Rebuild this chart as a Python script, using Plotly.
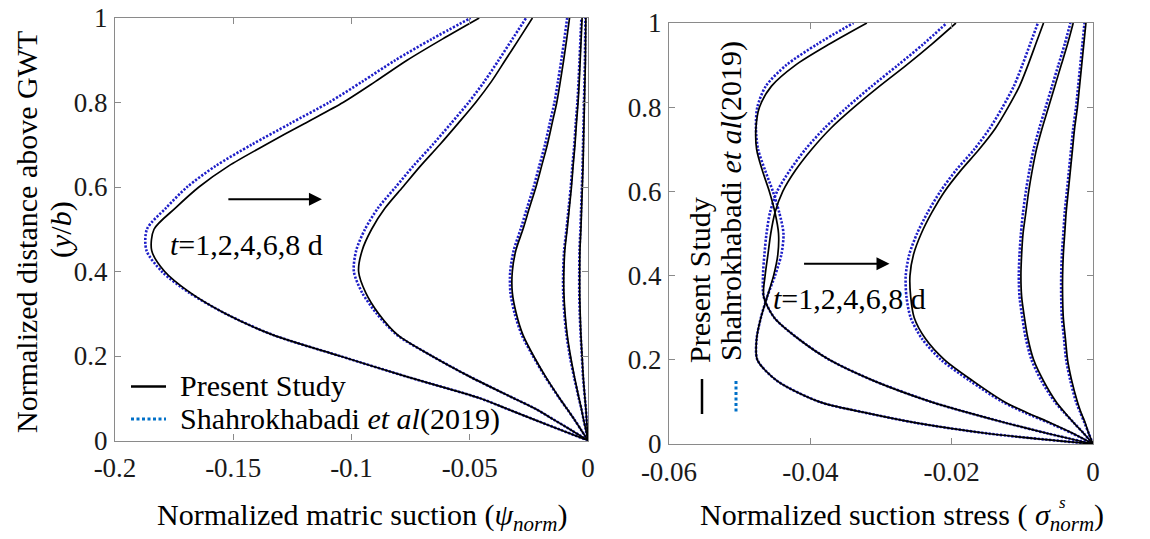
import plotly.graph_objects as go

# ---------------- data ----------------
# common height grid (normalized distance above GWT, y/b)
y_grid = [0, 0.025, 0.05, 0.075, 0.10, 0.15, 0.20, 0.25, 0.30, 0.35, 0.40, 0.45,
          0.50, 0.55, 0.60, 0.65, 0.70, 0.75, 0.80, 0.85, 0.90, 0.95, 1.00]

times = ["1 d", "2 d", "4 d", "6 d", "8 d"]

# Left panel: normalized matric suction (psi_norm)
psi_present_t1 = [0, -0.0115, -0.0230, -0.0343, -0.0457, -0.0760, -0.1049, -0.1333, -0.1532, -0.1682, -0.1790, -0.1845,
                  -0.1835, -0.1745, -0.1645, -0.1519, -0.1363, -0.1200, -0.1036, -0.0898, -0.0765, -0.0616, -0.0460]
psi_present_t2 = [0, -0.0072, -0.0147, -0.0222, -0.0314, -0.0496, -0.0660, -0.0805, -0.0885, -0.0940, -0.0970, -0.0955,
                  -0.0915, -0.0858, -0.0783, -0.0708, -0.0627, -0.0550, -0.0475, -0.0408, -0.0350, -0.0292, -0.0235]
psi_present_t4 = [0, -0.0029, -0.0058, -0.0089, -0.0120, -0.0178, -0.0230, -0.0275, -0.0303, -0.0320, -0.0320, -0.0305,
                  -0.0275, -0.0248, -0.0220, -0.0196, -0.0172, -0.0152, -0.0132, -0.0117, -0.0103, -0.0090, -0.0078]
psi_present_t6 = [0, -0.0009, -0.0019, -0.0028, -0.0038, -0.0057, -0.0074, -0.0088, -0.0097, -0.0102, -0.0102, -0.0098,
                  -0.0088, -0.0079, -0.0070, -0.0063, -0.0055, -0.0049, -0.0042, -0.0037, -0.0033, -0.0029, -0.0025]
psi_present_t8 = [0, -0.0003, -0.0006, -0.0009, -0.0013, -0.0020, -0.0025, -0.0030, -0.0033, -0.0035, -0.0035, -0.0034,
                  -0.0030, -0.0027, -0.0024, -0.0021, -0.0019, -0.0017, -0.0015, -0.0013, -0.0011, -0.0010, -0.0009]

psi_ref_t1 = [0, -0.0115, -0.0230, -0.0343, -0.0457, -0.0760, -0.1049, -0.1333, -0.1532, -0.1687, -0.1802, -0.1867,
              -0.1865, -0.1785, -0.1695, -0.1574, -0.1423, -0.1260, -0.1096, -0.0953, -0.0815, -0.0661, -0.0496]
psi_ref_t2 = [0, -0.0072, -0.0147, -0.0222, -0.0314, -0.0496, -0.0660, -0.0808, -0.0893, -0.0955, -0.0990, -0.0980,
              -0.0943, -0.0888, -0.0813, -0.0738, -0.0657, -0.0580, -0.0505, -0.0438, -0.0378, -0.0320, -0.0262]
psi_ref_t4 = [0, -0.0029, -0.0058, -0.0089, -0.0121, -0.0180, -0.0233, -0.0280, -0.0310, -0.0328, -0.0329, -0.0314,
              -0.0285, -0.0258, -0.0230, -0.0206, -0.0182, -0.0162, -0.0142, -0.0127, -0.0113, -0.0100, -0.0088]
psi_ref_t6 = [0, -0.0009, -0.0019, -0.0028, -0.0039, -0.0059, -0.0077, -0.0091, -0.0100, -0.0105, -0.0105, -0.0101,
              -0.0091, -0.0082, -0.0073, -0.0066, -0.0058, -0.0052, -0.0045, -0.0040, -0.0036, -0.0032, -0.0028]
psi_ref_t8 = [0, -0.0003, -0.0006, -0.0009, -0.0013, -0.0021, -0.0026, -0.0031, -0.0035, -0.0037, -0.0037, -0.0036,
              -0.0032, -0.0029, -0.0026, -0.0023, -0.0021, -0.0019, -0.0017, -0.0015, -0.0013, -0.0012, -0.0011]

# Right panel: normalized suction stress (sigma^s_norm)
sig_present_t1 = [0, -0.0149, -0.0250, -0.0324, -0.0387, -0.0447, -0.0475, -0.0476, -0.0470, -0.0461, -0.0452, -0.0446,
                  -0.0445, -0.0450, -0.0458, -0.0468, -0.0476, -0.0477, -0.0472, -0.0455, -0.0421, -0.0373, -0.0320]
sig_present_t2 = [0, -0.0064, -0.0123, -0.0178, -0.0229, -0.0310, -0.0373, -0.0417, -0.0451, -0.0466, -0.0464, -0.0460,
                  -0.0456, -0.0450, -0.0439, -0.0421, -0.0398, -0.0371, -0.0338, -0.0302, -0.0264, -0.0228, -0.0194]
sig_present_t4 = [0, -0.0028, -0.0060, -0.0094, -0.0125, -0.0170, -0.0210, -0.0237, -0.0253, -0.0258, -0.0259, -0.0254,
                  -0.0243, -0.0228, -0.0210, -0.0187, -0.0161, -0.0138, -0.0120, -0.0104, -0.0092, -0.0081, -0.0070]
sig_present_t6 = [0, -0.0013, -0.0027, -0.0040, -0.0052, -0.0070, -0.0084, -0.0092, -0.0097, -0.0101, -0.0102, -0.0101,
                  -0.0099, -0.0095, -0.0091, -0.0086, -0.0080, -0.0072, -0.0063, -0.0054, -0.0045, -0.0036, -0.0028]
sig_present_t8 = [0, -0.0006, -0.0011, -0.0017, -0.0022, -0.0030, -0.0036, -0.0039, -0.0042, -0.0043, -0.0043, -0.0042,
                  -0.0040, -0.0038, -0.0035, -0.0032, -0.0029, -0.0026, -0.0022, -0.0019, -0.0016, -0.0013, -0.0010]

sig_ref_t1 = [0, -0.0149, -0.0250, -0.0324, -0.0387, -0.0447, -0.0475, -0.0476, -0.0470, -0.0461, -0.0450, -0.0441,
              -0.0438, -0.0444, -0.0453, -0.0464, -0.0474, -0.0477, -0.0475, -0.0463, -0.0434, -0.0390, -0.0339]
sig_ref_t2 = [0, -0.0064, -0.0123, -0.0178, -0.0229, -0.0310, -0.0373, -0.0417, -0.0451, -0.0466, -0.0467, -0.0465,
              -0.0462, -0.0457, -0.0447, -0.0429, -0.0407, -0.0380, -0.0348, -0.0313, -0.0276, -0.0240, -0.0207]
sig_ref_t4 = [0, -0.0029, -0.0062, -0.0097, -0.0128, -0.0174, -0.0215, -0.0242, -0.0258, -0.0264, -0.0265, -0.0260,
              -0.0249, -0.0234, -0.0216, -0.0194, -0.0168, -0.0146, -0.0128, -0.0112, -0.0100, -0.0089, -0.0078]
sig_ref_t6 = [0, -0.0013, -0.0027, -0.0041, -0.0054, -0.0073, -0.0087, -0.0095, -0.0100, -0.0104, -0.0105, -0.0104,
              -0.0102, -0.0099, -0.0095, -0.0090, -0.0084, -0.0076, -0.0067, -0.0058, -0.0049, -0.0040, -0.0032]
sig_ref_t8 = [0, -0.0006, -0.0012, -0.0018, -0.0024, -0.0032, -0.0038, -0.0041, -0.0044, -0.0045, -0.0045, -0.0044,
              -0.0042, -0.0040, -0.0037, -0.0034, -0.0031, -0.0028, -0.0024, -0.0021, -0.0018, -0.0015, -0.0012]

# axis ticks
left_xticks = [-0.2, -0.15, -0.1, -0.05, 0]
left_xticktext = ["-0.2", "-0.15", "-0.1", "-0.05", "0"]
right_xticks = [-0.06, -0.04, -0.02, 0]
right_xticktext = ["-0.06", "-0.04", "-0.02", "0"]
yticks = [0, 0.2, 0.4, 0.6, 0.8, 1]
yticktext = ["0", "0.2", "0.4", "0.6", "0.8", "1"]

psi_present = [psi_present_t1, psi_present_t2, psi_present_t4, psi_present_t6, psi_present_t8]
psi_ref = [psi_ref_t1, psi_ref_t2, psi_ref_t4, psi_ref_t6, psi_ref_t8]
sig_present = [sig_present_t1, sig_present_t2, sig_present_t4, sig_present_t6, sig_present_t8]
sig_ref = [sig_ref_t1, sig_ref_t2, sig_ref_t4, sig_ref_t6, sig_ref_t8]

# ---------------- style ----------------
FONT = "Liberation Serif"
BLACK = "#000000"
BLUE = "rgb(30,30,200)"
LEG_BLUE = "rgb(0,112,200)"
AXIS_GREY = "#8a8a8a"
TXT = "#1a1a1a"

fig = go.Figure()

def add_curves(xs_ref, xs_present, xa, ya):
    for t, xv in zip(times, xs_ref):
        fig.add_trace(go.Scatter(x=xv, y=y_grid, mode="lines", xaxis=xa, yaxis=ya,
                                 line=dict(color=BLUE, width=2.6, dash="2.2px,1.6px", shape="spline", smoothing=0.8),
                                 name="Shahrokhabadi et al (2019), t=" + t, showlegend=False))
    for t, xv in zip(times, xs_present):
        fig.add_trace(go.Scatter(x=xv, y=y_grid, mode="lines", xaxis=xa, yaxis=ya,
                                 line=dict(color=BLACK, width=1.7, shape="spline", smoothing=0.8),
                                 name="Present Study, t=" + t, showlegend=False))

add_curves(psi_ref, psi_present, "x", "y")
add_curves(sig_ref, sig_present, "x2", "y2")

W, H = 1150, 539
L_dom_x = [115 / W, 588 / W]
L_dom_y = [(H - 440.5) / H, (H - 18) / H]
R_dom_x = [669 / W, 1093 / W]
R_dom_y = [(H - 444) / H, (H - 23) / H]

axis_common = dict(showline=True, linecolor=AXIS_GREY, linewidth=1.3, mirror="ticks",
                   ticks="inside", ticklen=6, tickcolor=AXIS_GREY, tickwidth=1.2,
                   showgrid=False, zeroline=False, automargin=False,
                   tickfont=dict(family=FONT, size=27, color=TXT))

fig.update_layout(
    width=W, height=H,
    margin=dict(l=0, r=0, t=0, b=0),
    paper_bgcolor="white", plot_bgcolor="white",
    showlegend=False,
    font=dict(family=FONT),
    xaxis=dict(domain=L_dom_x, range=[-0.2, 0], tickvals=left_xticks, ticktext=left_xticktext,
               anchor="y", ticklabelstandoff=3, **axis_common),
    yaxis=dict(domain=L_dom_y, range=[0, 1], tickvals=yticks, ticktext=yticktext,
               anchor="x", ticklabelstandoff=1, **axis_common),
    xaxis2=dict(domain=R_dom_x, range=[-0.06, 0], tickvals=right_xticks, ticktext=right_xticktext,
                anchor="y2", ticklabelstandoff=3, **axis_common),
    yaxis2=dict(domain=R_dom_y, range=[0, 1], tickvals=yticks, ticktext=yticktext,
                anchor="x2", ticklabelstandoff=1, **axis_common),
)

big = dict(family=FONT, size=30, color=BLACK)
ann = []
# axis titles
ann.append(dict(xref="paper", yref="paper", x=362 / W, y=(H - 517) / H, xanchor="center", yanchor="middle",
                text="Normalized matric suction (<i>ψ<sub>norm</sub></i>)", showarrow=False, font=big))
ann.append(dict(xref="paper", yref="paper", x=902 / W, y=(H - 517) / H, xanchor="center", yanchor="middle",
                text="Normalized suction stress ( <i>σ</i><sub><i>norm</i></sub>)", showarrow=False, font=big))
ann.append(dict(xref="paper", yref="paper", x=1062 / W, y=(H - 503) / H, xanchor="center", yanchor="middle",
                text="<i>s</i>", showarrow=False, font=dict(family=FONT, size=17, color=BLACK)))
ann.append(dict(xref="paper", yref="paper", x=27 / W, y=(H - 232) / H, xanchor="center", yanchor="middle",
                text="Normalized distance above GWT", textangle=-90, showarrow=False, font=big))
ann.append(dict(xref="paper", yref="paper", x=61 / W, y=(H - 230) / H, xanchor="center", yanchor="middle",
                text="(<i>y</i>/<i>b</i>)", textangle=-90, showarrow=False, font=big))

# time labels and arrows
ann.append(dict(xref="x", yref="y", x=-0.1775, y=0.463, xanchor="left", yanchor="middle",
                text="<i>t</i>=1,2,4,6,8 d", showarrow=False, font=big))
ann.append(dict(xref="x", yref="y", axref="x", ayref="y", x=-0.1125, y=0.571, ax=-0.1527, ay=0.571,
                text="", showarrow=True, arrowhead=2, arrowsize=1.3, arrowwidth=2, arrowcolor=BLACK))
ann.append(dict(xref="x2", yref="y2", x=-0.0455, y=0.345, xanchor="left", yanchor="middle",
                text="<i>t</i>=1,2,4,6,8 d", showarrow=False, font=big))
ann.append(dict(xref="x2", yref="y2", axref="x2", ayref="y2", x=-0.0288, y=0.428, ax=-0.0411, ay=0.428,
                text="", showarrow=True, arrowhead=2, arrowsize=1.3, arrowwidth=2, arrowcolor=BLACK))

# left legend
ann.append(dict(xref="paper", yref="paper", x=178 / W, y=(H - 385) / H, xanchor="left", yanchor="middle",
                text="Present Study", showarrow=False, font=big))
ann.append(dict(xref="paper", yref="paper", x=178 / W, y=(H - 419) / H, xanchor="left", yanchor="middle",
                text="Shahrokhabadi <i>et al</i>(2019)", showarrow=False, font=big))
# right legend (vertical)
ann.append(dict(xref="paper", yref="paper", x=699 / W, y=(H - 280) / H, xanchor="center", yanchor="middle",
                text="Present Study", textangle=-90, showarrow=False, font=big))
ann.append(dict(xref="paper", yref="paper", x=731 / W, y=(H - 201) / H, xanchor="center", yanchor="middle",
                text="Shahrokhabadi <i>et al</i>(2019)", textangle=-90, showarrow=False, font=big))

shapes = [
    dict(type="line", xref="paper", yref="paper", x0=131 / W, x1=166 / W, y0=(H - 386.5) / H, y1=(H - 386.5) / H,
         line=dict(color=BLACK, width=2.5)),
    dict(type="line", xref="paper", yref="paper", x0=131 / W, x1=166 / W, y0=(H - 419) / H, y1=(H - 419) / H,
         line=dict(color=LEG_BLUE, width=3, dash="3px,2.5px")),
    dict(type="line", xref="paper", yref="paper", x0=702 / W, x1=702 / W, y0=(H - 379) / H, y1=(H - 414) / H,
         line=dict(color=BLACK, width=2.5)),
    dict(type="line", xref="paper", yref="paper", x0=736 / W, x1=736 / W, y0=(H - 381) / H, y1=(H - 414) / H,
         line=dict(color=LEG_BLUE, width=3, dash="3px,2.5px")),
]

fig.update_layout(annotations=ann, shapes=shapes)
fig.write_html("out.html")
